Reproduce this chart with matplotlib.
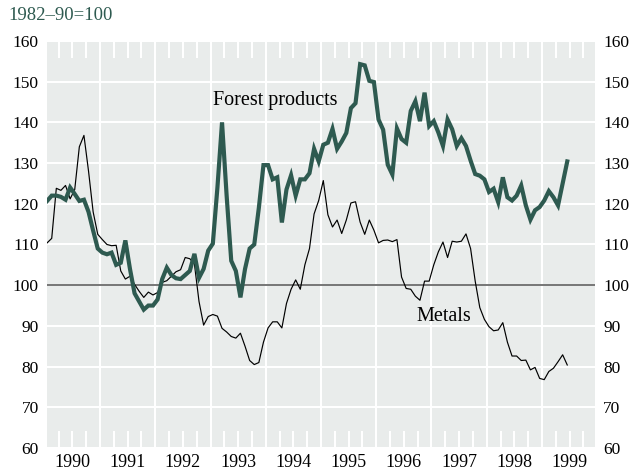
import numpy as np
import matplotlib
matplotlib.use('Agg')
import matplotlib.pyplot as plt

# monthly index, Jan 1990 onwards (1982-90=100)
forest = [120.7, 122, 122, 121.7, 121, 124, 122.4, 120.7, 121, 118, 113.4, 109,
          108, 107.6, 108, 105, 105.5, 111, 104, 98, 96, 94, 95, 95,
          96.5, 101.5, 104.3, 102.5, 101.7, 101.5, 102.5, 103.5, 107.7, 101.8, 104, 108.5,
          110.2, 124, 140, 122, 106, 103.5, 97, 104, 109, 110, 119, 129.5,
          129.5, 126, 126.5, 115.4, 123.5, 127, 122, 126, 126, 127.5, 133.5, 130.4,
          134.5, 135, 138.4, 133.5, 135.3, 137.4, 143.5, 144.7, 154.3, 154, 150.2, 149.9,
          140.7, 138.2, 129.6, 127.2, 138.5, 135.9, 135, 142.8, 145.2, 140.3, 147.3, 139.1,
          140.3, 137.5, 134.2, 140.7, 138.3, 134.2, 136.1, 134.2, 130.6, 127.3, 126.9, 126,
          122.9, 123.7, 120.4, 126.5, 121.6, 120.8, 122, 124.5, 119.6, 116.1, 118.4, 119.2,
          120.8, 123.1, 121.6, 119.6, 125, 130.4]

metals = [110.4, 111.5, 123.8, 123.3, 124.5, 121.2, 123.5, 134, 136.8, 128, 118, 112.5,
          111.2, 110, 109.7, 109.8, 103.5, 101.5, 102.2, 100.2, 98.5, 97, 98.3, 97.6,
          98.2, 100.7, 101.1, 102.2, 103.3, 103.8, 106.8, 106.5, 105.2, 96, 90.2, 92.3,
          92.8, 92.4, 89.4, 88.5, 87.4, 87, 88.2, 85, 81.5, 80.5, 81, 86,
          89.5, 91, 91, 89.5, 95.5, 99, 101.3, 99, 105, 109, 117.5, 120.8,
          125.7, 117.3, 114.3, 116, 112.7, 116, 120.2, 120.5, 115.5, 112.5, 116, 113.5,
          110.4, 111, 111.1, 110.7, 111.2, 102, 99.2, 99, 97.3, 96.3, 101, 101,
          105, 108.2, 110.6, 106.8, 110.8, 110.6, 110.8, 112.6, 109, 101, 94.5, 91.6,
          89.8, 88.8, 89, 90.8, 86, 82.6, 82.6, 81.5, 81.6, 79.2, 79.8, 77.1,
          76.8, 78.8, 79.6, 81.2, 82.9, 80.4]

years = list(range(1990, 2000))
yticks = list(range(60, 161, 10))

green = '#2e5a50'
bg = '#e9eceb'

plt.rcParams['font.family'] = ['Liberation Serif', 'DejaVu Serif']

fig = plt.figure(figsize=(6.32, 4.75), dpi=100)
ax = fig.add_axes([0.0744, 0.0568, 0.867, 0.857])
ax.set_facecolor(bg)

t = 1990 + (np.arange(len(forest)) + 0.5) / 12

# grid
for y in yticks:
    ax.axhline(y, color='white', lw=1.5, zorder=1)
for yr in years[1:]:
    ax.axvline(yr, color='white', lw=1.5, zorder=1)
# quarter marks at top and bottom
for yr in years:
    for q in (0.25, 0.5, 0.75):
        ax.vlines(yr + q, 60, 64.2, color='white', lw=1.5, zorder=1)
        ax.vlines(yr + q, 155.8, 160, color='white', lw=1.5, zorder=1)

ax.axhline(100, color='#6b6b6b', lw=1.3, zorder=2)

ax.plot(t, metals, color='black', lw=0.85, zorder=3)
ax.plot(t, forest, color=green, lw=3, zorder=4, solid_joinstyle='miter')

ax.text(1993.05, 145.3, 'Forest products', fontsize=14.5, va='center', ha='left')
ax.text(1996.72, 92.2, 'Metals', fontsize=14.5, va='center', ha='left')

ax.set_xlim(1990.04, 1999.96)
ax.set_ylim(60, 160)
ax.set_yticks(yticks)
ax.set_xticks([y + 0.5 for y in years])
ax.set_xticklabels([str(y) for y in years])
ax.tick_params(axis='y', length=0, labelsize=12.5, labelleft=True, labelright=True, pad=6)
ax.tick_params(axis='x', length=0, labelsize=13, pad=4)
for s in ax.spines.values():
    s.set_visible(False)

fig.text(8 / 632, 1 - 16 / 475, '1982\u201390=100', color=green, fontsize=13.5,
         va='center', ha='left')

fig.savefig('out.png', dpi=100)
